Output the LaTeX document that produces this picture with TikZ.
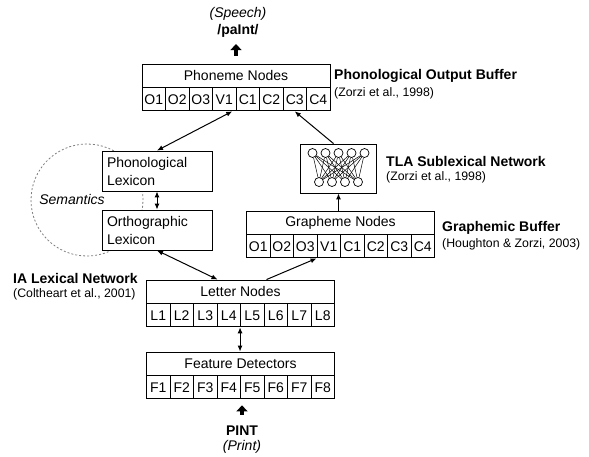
\documentclass[tikz,border=0pt]{standalone}
\usepackage{fontspec}
\setmainfont{Liberation Sans}
\usetikzlibrary{arrows.meta,positioning}
\newcommand{\bxfont}{\fontsize{14}{16}\selectfont}
\newcommand{\ctfont}{\fontsize{12.3}{15}\selectfont}

\begin{document}
\begin{tikzpicture}[
  x=1pt, y=-1pt,
  hdrbox/.style={draw,fill=white,line width=0.9pt,minimum width=188pt,minimum height=23pt,inner sep=0pt,font=\bxfont},
  cellbox/.style={draw,fill=white,line width=0.9pt,minimum width=23.5pt,minimum height=23pt,inner sep=0pt,font=\bxfont},
  lexbox/.style={draw,fill=white,line width=0.9pt,text width=100pt,inner xsep=5pt,minimum height=40pt,align=left,font=\fontsize{14}{18}\selectfont},
  unitnode/.style={circle,draw,fill=white,line width=0.7pt,minimum size=9pt,inner sep=0pt},
  boldlbl/.style={anchor=west,inner sep=0pt,font=\bxfont\bfseries},
  citlbl/.style={anchor=west,inner sep=0pt,font=\ctfont},
  arr/.style={-{Latex[length=6pt,width=5pt]},line width=1pt},
  dblarr/.style={{Latex[length=6pt,width=5pt]}-{Latex[length=6pt,width=5pt]},line width=1pt},
  fatarr/.style={-{Triangle[length=6pt,width=11pt]},line width=4.5pt}]
  \useasboundingbox (0,0) rectangle (589,456);
  % semantics loop behind the lexicons
  \node[circle,draw=gray,dash pattern=on 2pt off 2pt,line width=0.8pt,minimum size=112pt] (sem) at (87,200) {};
  \node[font=\bxfont\itshape] (semlbl) at (72,199) {Semantics};
  % output side
  \node[font=\bxfont\itshape] (speech) at (238,14) {(Speech)};
  \node[font=\bxfont\bfseries] (pron) at (238,31) {/paInt/};
  \node[hdrbox] (pho) at (236,75.5) {Phoneme Nodes};
  \foreach \lab [count=\i] in {O1,O2,O3,V1,C1,C2,C3,C4}
    \node[cellbox,anchor=north west] (pho-\i) at ([xshift={(\i-1)*23.5pt}]pho.south west) {\lab};
  \node[boldlbl] (pobl) at (334,76) {Phonological Output Buffer};
  \node[citlbl] (pobc) at (334,93) {(Zorzi et al., 1998)};
  % lexical route
  \node[lexbox] (plex) at (157,171) {Phonological\\Lexicon};
  \node[lexbox] (olex) at (157,230) {Orthographic\\Lexicon};
  \node[boldlbl] (ialbl) at (13,278) {IA Lexical Network};
  \node[citlbl] (iacit) at (13,294) {(Coltheart et al., 2001)};
  % sublexical route
  \node[draw,fill=white,line width=0.9pt,minimum width=76pt,minimum height=49pt] (tla) at (338.5,168.5) {};
  \foreach \i in {1,...,5}
    \node[unitnode] (tu-\i) at ({312.5+13*(\i-1)},153) {};
  \foreach \i in {1,...,4}
    \node[unitnode] (bu-\i) at ({319+13*(\i-1)},182) {};
  \foreach \b in {1,...,4}
    \foreach \t in {1,...,5}
      \draw[line width=0.5pt] (bu-\b) -- (tu-\t);
  \node[boldlbl] (tlal) at (386,161) {TLA Sublexical Network};
  \node[citlbl] (tlac) at (386,177) {(Zorzi et al., 1998)};
  \node[hdrbox] (gra) at (340.5,222.5) {Grapheme Nodes};
  \foreach \lab [count=\i] in {O1,O2,O3,V1,C1,C2,C3,C4}
    \node[cellbox,anchor=north west] (gra-\i) at ([xshift={(\i-1)*23.5pt}]gra.south west) {\lab};
  \node[boldlbl] (gbl) at (442,228) {Graphemic Buffer};
  \node[citlbl] (gbc) at (442,244) {(Houghton \& Zorzi, 2003)};
  % input side
  \node[hdrbox] (let) at (240.5,291.5) {Letter Nodes};
  \foreach \i in {1,...,8}
    \node[cellbox,anchor=north west] (let-\i) at ([xshift={(\i-1)*23.5pt}]let.south west) {L\i};
  \node[hdrbox] (fe) at (240.5,363.5) {Feature Detectors};
  \foreach \i in {1,...,8}
    \node[cellbox,anchor=north west] (fe-\i) at ([xshift={(\i-1)*23.5pt}]fe.south west) {F\i};
  \node[font=\bxfont\bfseries] (pint) at (242,431) {PINT};
  \node[font=\bxfont\itshape] (print) at (242,447) {(Print)};
  % connections
  \draw[fatarr,shorten <=8pt,shorten >=3pt] (pho.north) -- (pho.north |- pron.south);
  \draw[dblarr] ([xshift=8pt]pho-4.south) -- (plex.north);
  \draw[arr] ([xshift=-5pt]tla.north) -- (pho-7.south);
  \draw[dblarr] (plex) -- (olex);
  \draw[dblarr] (olex.south) -- ([xshift=-23pt]let.north);
  \draw[arr] ([xshift=26pt]let.north) -- (gra-4.south west);
  \draw[arr] (gra.north -| tla.south) -- (tla.south);
  \draw[dblarr] (let-5.south west) -- (let-5.south west |- fe.north);
  \draw[fatarr,shorten <=8pt,shorten >=6pt] (pint.north) -- (pint.north |- fe-5.south);
\end{tikzpicture}
\end{document}
